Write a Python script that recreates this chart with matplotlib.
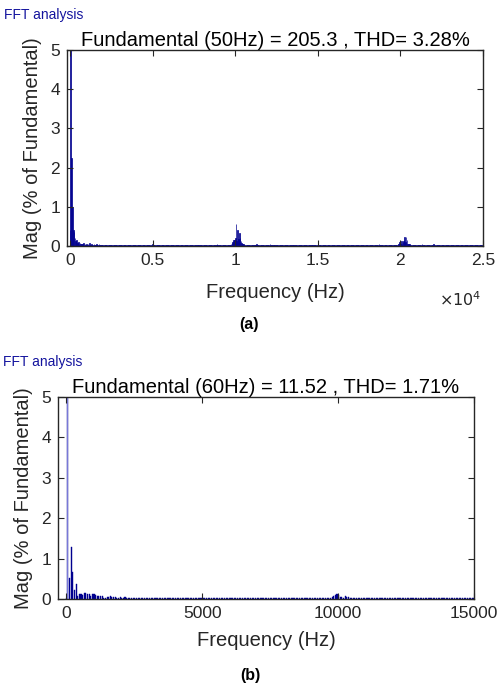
import numpy as np
import matplotlib
import matplotlib.pyplot as plt

matplotlib.rcParams.update({'font.family': ['Liberation Sans', 'DejaVu Sans'],
                            'xtick.direction': 'in', 'ytick.direction': 'in',
                            'xtick.top': True, 'ytick.right': True,
                            'axes.linewidth': 1.0})

# (a) 50 Hz system, 50 Hz bins up to 25 kHz
a_step = 50
a_fmax = 25000
a_floor = 0.025
a_low_freq = [0, 50, 100, 150, 200, 250, 300, 350, 400, 450, 500, 550, 600, 650,
              700, 750, 800, 900, 1000, 1100, 1200, 1300, 1450, 1600, 1750]
a_low_mag = [0.4, 100, 2.25, 1.0, 0.4, 0.35, 0.2, 0.12, 0.15, 0.08, 0.1, 0.06,
             0.08, 0.05, 0.06, 0.05, 0.07, 0.05, 0.06, 0.05, 0.07, 0.05, 0.06, 0.05, 0.06]
a_sb1_freq = [9700, 9750, 9800, 9850, 9900, 9950, 10000, 10050, 10100, 10150,
              10200, 10250, 10300, 10350, 10400, 10450, 10500]
a_sb1_mag = [0.03, 0.05, 0.08, 0.1, 0.15, 0.15, 0.2, 0.57, 0.12, 0.4, 0.18, 0.33,
             0.2, 0.12, 0.08, 0.05, 0.04]
a_sb2_freq = [19800, 19850, 19900, 19950, 20000, 20050, 20100, 20150, 20200,
              20250, 20300, 20350, 20400, 20450, 20500, 20550]
a_sb2_mag = [0.03, 0.04, 0.05, 0.1, 0.05, 0.12, 0.06, 0.1, 0.12, 0.22, 0.1, 0.22,
             0.15, 0.06, 0.05, 0.04]
a_misc_freq = [3500, 5000, 6200, 8900, 11300, 12100, 13800, 18700, 21300, 22000]
a_misc_mag = [0.035, 0.04, 0.035, 0.04, 0.045, 0.04, 0.035, 0.04, 0.045, 0.045]

# (b) 60 Hz system, 60 Hz bins up to 15 kHz
b_step = 60
b_fmax = 15000
b_floor = 0.02
b_low_freq = [60, 120, 180, 240, 300, 360, 420, 480, 540, 600, 660, 720, 780, 840,
              900, 960, 1020, 1080, 1140, 1200, 1260, 1320, 1500, 1560, 1620, 1680,
              1740, 1800, 1860, 1980, 2160, 2640, 2760, 3120]
b_low_mag = [100, 0.53, 1.29, 0.67, 0.23, 0.37, 0.08, 0.13, 0.13, 0.1, 0.15, 0.15,
             0.13, 0.13, 0.08, 0.12, 0.13, 0.1, 0.07, 0.07, 0.07, 0.07, 0.04, 0.04,
             0.07, 0.05, 0.04, 0.04, 0.03, 0.06, 0.04, 0.03, 0.03, 0.03]
b_sb_freq = [9780, 9840, 9900, 9960, 10020, 10080, 10140, 10200, 10260, 10320,
             10380, 10440]
b_sb_mag = [0.04, 0.07, 0.11, 0.12, 0.11, 0.04, 0.06, 0.03, 0.08, 0.04, 0.04, 0.03]


def spectrum(step, fmax, floor, parts):
    f = np.arange(0, fmax + step, step)
    m = np.full(len(f), floor)
    for freqs, mags in parts:
        idx = np.round(np.array(freqs) / step).astype(int)
        m[idx] = mags
    return f, m


fa, ma = spectrum(a_step, a_fmax, a_floor,
                  [(a_low_freq, a_low_mag), (a_sb1_freq, a_sb1_mag),
                   (a_sb2_freq, a_sb2_mag), (a_misc_freq, a_misc_mag)])
fb, mb = spectrum(b_step, b_fmax, b_floor, [(b_low_freq, b_low_mag), (b_sb_freq, b_sb_mag)])

bar_col = '#00008f'
txt_col = '#262626'

fig = plt.figure(figsize=(4.97, 6.91), dpi=100)
ax0 = fig.add_axes([0.1348, 0.644, 0.837, 0.2836])
ax1 = fig.add_axes([0.1167, 0.1331, 0.837, 0.2923])

#a
ax0.bar(fa, ma, width=40, color=bar_col, edgecolor=bar_col, linewidth=0.5)
ax0.set_xlim(-180, 25000)
ax0.set_ylim(0, 5)
ax0.set_xticks([0, 5000, 10000, 15000, 20000, 25000])
ax0.set_xticklabels(['0', '0.5', '1', '1.5', '2', '2.5'])
ax0.text(0.895, -0.275, r'$\times10^{4}$', transform=ax0.transAxes, fontsize=11.5,
         color=txt_col, ha='left', va='center')
ax0.set_title('Fundamental (50Hz) = 205.3 , THD= 3.28%', fontsize=14.5, pad=3, color='k')
fig.text(0.008, 0.979, 'FFT analysis', color='#14149e', fontsize=10, ha='left', va='center')
fig.text(0.5, 0.53, '(a)', fontsize=11.5, fontweight='bold', ha='center', va='center')

#b
ax1.bar(fb, mb, width=40, color=bar_col, edgecolor=bar_col, linewidth=0.3)
ax1.bar(fb[1], min(mb[1], 5), width=40, color='#7878d8', linewidth=0)
ax1.set_xlim(-305, 15000)
ax1.set_ylim(0, 5)
ax1.set_xticks([0, 5000, 10000, 15000])
ax1.set_title('Fundamental (60Hz) = 11.52 , THD= 1.71%', fontsize=14.5, pad=3, color='k')
fig.text(0.006, 0.476, 'FFT analysis', color='#14149e', fontsize=10, ha='left', va='center')
fig.text(0.503, 0.022, '(b)', fontsize=11.5, fontweight='bold', ha='center', va='center')

for ax, lp in ((ax0, 11), (ax1, 7)):
    ax.set_yticks([0, 1, 2, 3, 4, 5])
    ax.set_xlabel('Frequency (Hz)', fontsize=14.5, color=txt_col, labelpad=lp)
    ax.set_ylabel('Mag (% of Fundamental)', fontsize=14.5, color=txt_col, labelpad=6)
    ax.tick_params(labelsize=12.5, colors=txt_col, length=4, pad=5)
    for s in ax.spines.values():
        s.set_color(txt_col)

fig.savefig('out.png', dpi=100)
